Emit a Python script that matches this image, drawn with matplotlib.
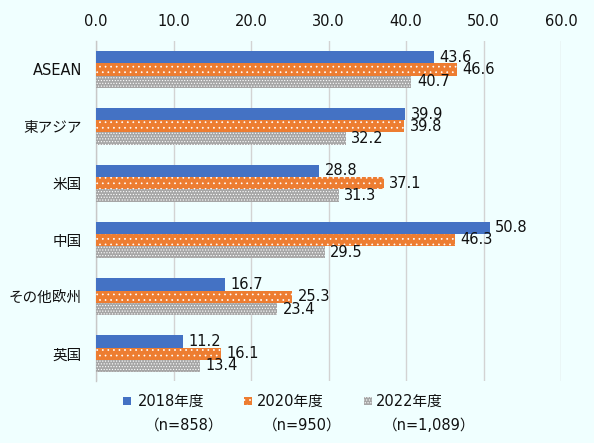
import matplotlib
matplotlib.use("Agg")
import matplotlib.pyplot as plt
from matplotlib.patches import Rectangle
import numpy as np

plt.rcParams['font.family'] = ['DejaVu Sans', 'Noto Sans CJK JP']
plt.rcParams['hatch.linewidth'] = 0.5

categories = ["ASEAN", "東アジア", "米国", "中国", "その他欧州", "英国"]
series_names = ["2018年度", "2020年度", "2022年度"]
series_n = ["（n=858）", "（n=950）", "（n=1,089）"]
v2018 = [43.6, 39.9, 28.8, 50.8, 16.7, 11.2]
v2020 = [46.6, 39.8, 37.1, 46.3, 25.3, 16.1]
v2022 = [40.7, 32.2, 31.3, 29.5, 23.4, 13.4]
xticks = [0, 10, 20, 30, 40, 50, 60]

bg = "#F0FFFF"
txt = "#111111"
W, H = 594, 443
fig = plt.figure(figsize=(5.94, 4.43), dpi=100, facecolor=bg)
ax = fig.add_axes([96 / W, 1 - 381 / H, 465 / W, 340 / H], facecolor=bg)

y = np.arange(len(categories))
h = 0.216
styles = [
    dict(color="#4472C4", hatch=None),
    dict(color="#ED7D31", hatch="..."),
    dict(color="#A6A6A6", hatch="......"),
]
for i, (vals, st) in enumerate(zip([v2018, v2020, v2022], styles)):
    pos = y + (i - 1) * h
    ax.barh(pos, vals, height=h, color=st["color"], hatch=st["hatch"],
            edgecolor="white", linewidth=0, zorder=3)
    for p, v in zip(pos, vals):
        ax.text(v + 0.7, p, f"{v:.1f}", va="center", ha="left", fontsize=10.5,
                color=txt, zorder=4)

ax.set_yticks(y)
ax.set_yticklabels(categories, fontsize=10.5)
ax.set_ylim(len(categories) - 1 + 0.48, -0.5)
ax.set_xlim(0, 60)
ax.set_xticks(xticks)
ax.set_xticklabels([f"{t:.1f}" for t in xticks], fontsize=10.5)
ax.xaxis.tick_top()
ax.tick_params(axis="both", length=0, colors=txt)
ax.tick_params(axis="x", pad=9)
ax.tick_params(axis="y", pad=10)
ax.grid(axis="x", color="#D3D3D3", linewidth=1, zorder=0)
for s in ["top", "right", "bottom"]:
    ax.spines[s].set_visible(False)
ax.spines["left"].set_color("#C8C8C8")
ax.spines["left"].set_linewidth(1)

# legend (manual)
leg_sq_x = [123, 244, 364]
leg_txt_x = [138, 257, 376]
leg_n_x = [145, 263, 383]
for i, st in enumerate(styles):
    fig.patches.append(Rectangle(((leg_sq_x[i]) / W, 1 - 405 / H), 8 / W, 8 / H,
                                 transform=fig.transFigure, facecolor=st["color"],
                                 hatch=st["hatch"], edgecolor="white", linewidth=0))
    fig.text(leg_txt_x[i] / W, 1 - 401 / H, series_names[i], fontsize=10.5,
             va="center", ha="left", color=txt)
    fig.text(leg_n_x[i] / W, 1 - 425 / H, series_n[i], fontsize=10.5,
             va="center", ha="left", color=txt)

fig.savefig("out.png", dpi=100, facecolor=bg)
